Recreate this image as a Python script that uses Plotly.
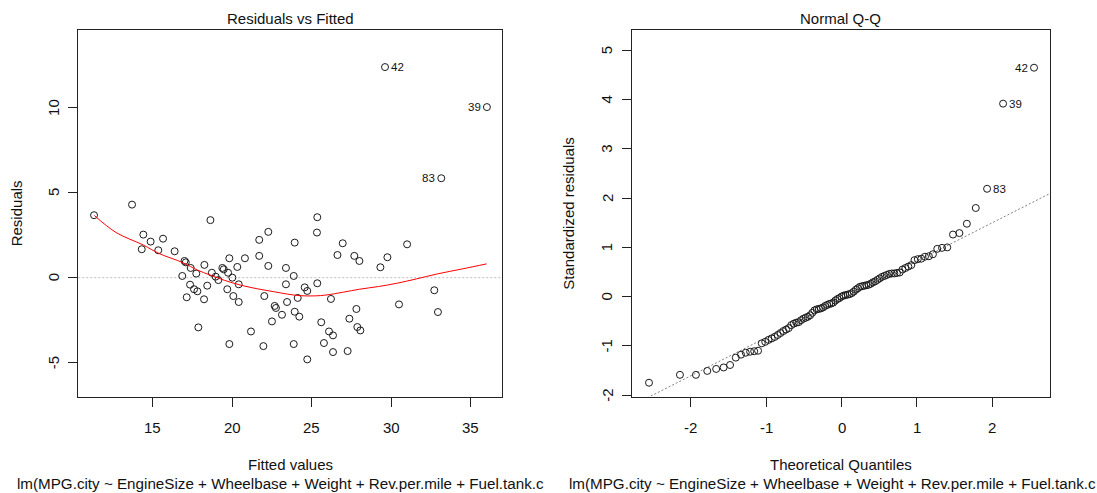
import numpy as np
import plotly.graph_objects as go

# ---------------- data ----------------
fitted = [11.31, 13.70, 14.41, 14.31, 14.87, 15.35, 15.65, 16.38, 17.00, 17.08,
          16.86, 17.39, 17.14, 17.35, 17.60, 17.81, 17.74, 17.87, 18.25, 18.23,
          18.43, 18.63, 18.72, 18.96, 19.13, 19.38, 19.47, 19.74, 19.69, 19.82,
          19.82, 20.01, 20.07, 20.32, 20.41, 20.41, 20.80, 21.18, 21.70, 21.70,
          22.02, 21.96, 22.27, 22.27, 22.50, 22.67, 22.75, 23.13, 23.38, 23.38,
          23.45, 23.87, 23.93, 23.87, 23.93, 24.12, 24.22, 24.56, 24.72, 24.72,
          25.33, 25.35, 25.35, 25.60, 25.77, 26.09, 26.21, 26.34, 26.34, 26.62,
          26.95, 27.26, 27.37, 27.68, 28.00, 27.81, 27.87, 28.06, 29.32, 29.76,
          29.61, 30.49, 31.00, 32.71, 32.94, 33.15, 36.02]
resid = [3.67, 4.29, 2.53, 1.67, 2.12, 1.61, 2.29, 1.55, 0.98, 0.90,
         0.10, 0.57, -1.15, -0.41, -0.68, -0.80, 0.24, -2.92, 0.75, -1.27,
         -0.47, 3.38, 0.29, 0.06, -0.14, 0.57, 0.49, 0.29, -0.68, 1.14,
         -3.90, 0.00, -1.08, 0.63, -0.39, -1.43, 1.14, -3.16, 2.22, 1.28,
         -1.08, -4.02, 2.69, 0.69, -2.57, -1.66, -1.78, -2.18, 0.57, -0.39,
         -1.43, -3.90, 2.06, 0.10, -2.00, -1.19, -2.29, -0.57, -0.78, -4.80,
         2.65, 3.55, -0.33, -2.62, -3.84, -3.16, -1.25, -3.39, -4.37, 1.33,
         2.02, -4.31, -2.41, 1.28, 0.98, -1.84, -2.90, -3.10, 0.61, 1.20,
         12.37, -1.57, 1.96, -0.74, -2.02, 5.84, 10.02]

smooth_x = [11.33, 12.70, 14.40, 15.40, 16.90, 17.80, 18.60, 19.50, 20.50, 21.50,
            22.60, 23.50, 24.30, 25.20, 25.90, 27.00, 28.00, 29.20, 30.35, 31.60,
            32.90, 34.50, 36.00]
smooth_y = [3.65, 2.65, 1.92, 1.42, 0.88, 0.45, 0.16, -0.15, -0.43, -0.64,
            -0.82, -0.97, -1.06, -1.07, -1.02, -0.85, -0.68, -0.52, -0.33, -0.07,
            0.22, 0.52, 0.81]

theo_q = [-2.551, -2.141, -1.929, -1.779, -1.661, -1.562, -1.477, -1.401, -1.332, -1.269,
          -1.211, -1.157, -1.106, -1.057, -1.011, -0.967, -0.925, -0.885, -0.846, -0.808,
          -0.771, -0.735, -0.700, -0.666, -0.633, -0.600, -0.568, -0.537, -0.506, -0.476,
          -0.446, -0.416, -0.387, -0.358, -0.329, -0.301, -0.273, -0.245, -0.217, -0.190,
          -0.162, -0.135, -0.108, -0.081, -0.054, -0.027, 0.000,
          0.027, 0.054, 0.081, 0.108, 0.135, 0.162, 0.190, 0.217, 0.245, 0.273,
          0.301, 0.329, 0.358, 0.387, 0.416, 0.446, 0.476, 0.506, 0.537, 0.568,
          0.600, 0.633, 0.666, 0.700, 0.735, 0.771, 0.808, 0.846, 0.885, 0.925,
          0.967, 1.011, 1.057, 1.106, 1.157, 1.211, 1.269, 1.332, 1.401, 1.477,
          1.562, 1.661, 1.779, 1.929, 2.141, 2.551]
std_resid = [-1.75, -1.59, -1.59, -1.51, -1.47, -1.44, -1.39, -1.24, -1.18, -1.14,
             -1.12, -1.11, -1.10, -0.95, -0.92, -0.88, -0.85, -0.82, -0.78, -0.74,
             -0.70, -0.67, -0.64, -0.58, -0.55, -0.53, -0.52, -0.48, -0.45, -0.43,
             -0.41, -0.38, -0.33, -0.28, -0.26, -0.25, -0.24, -0.22, -0.19, -0.17,
             -0.15, -0.14, -0.12, -0.08, -0.05, -0.03, 0.00,
             0.02, 0.03, 0.04, 0.05, 0.07, 0.10, 0.14, 0.17, 0.20, 0.21,
             0.22, 0.23, 0.24, 0.26, 0.29, 0.31, 0.34, 0.37, 0.40, 0.42,
             0.44, 0.46, 0.47, 0.47, 0.48, 0.49, 0.55, 0.58, 0.61, 0.64,
             0.74, 0.76, 0.77, 0.81, 0.82, 0.86, 0.97, 0.99, 1.00, 1.26,
             1.29, 1.48, 1.80, 2.19, 3.92, 4.65]

resid_labels = [("42", 29.61, 12.37, "left"), ("39", 36.02, 10.02, "right"), ("83", 33.15, 5.84, "right")]
qq_labels = [("42", 2.551, 4.65, "right"), ("39", 2.141, 3.92, "left"), ("83", 1.929, 2.19, "left")]

x1_ticks = [15, 20, 25, 30, 35]
y1_ticks = [-5, 0, 5, 10]
x2_ticks = [-2, -1, 0, 1, 2]
y2_ticks = [-2, -1, 0, 1, 2, 3, 4, 5]

caption = "lm(MPG.city ~ EngineSize + Wheelbase + Weight + Rev.per.mile + Fuel.tank.c"

# ---------------- layout geometry ----------------
W, H = 1097, 493
FONT = "Liberation Sans, Arial, sans-serif"
FS = 15
TXT = "#111111"


def px_x(p):
    return p / W


def px_y(p):
    return 1 - p / H


# qq reference line through quartiles
q25, q75 = np.quantile(std_resid, [0.25, 0.75])
z25, z75 = -0.6745, 0.6745
slope = (q75 - q25) / (z75 - z25)
intercept = q25 - slope * z25
line_x = np.array([-3.0, 3.0])
line_y = intercept + slope * line_x

fig = go.Figure()

marker = dict(symbol="circle-open", size=7, color="#1a1a1a", line=dict(width=1, color="#1a1a1a"))

fig.add_trace(go.Scatter(x=fitted, y=resid, mode="markers", marker=marker,
                         xaxis="x", yaxis="y", showlegend=False, hoverinfo="skip"))
fig.add_trace(go.Scatter(x=smooth_x, y=smooth_y, mode="lines", line=dict(color="red", width=1, shape="spline"),
                         xaxis="x", yaxis="y", showlegend=False, hoverinfo="skip"))
fig.add_trace(go.Scatter(x=line_x, y=line_y, mode="lines", line=dict(color="#808080", width=1, dash="2px,2px"),
                         xaxis="x2", yaxis="y2", showlegend=False, hoverinfo="skip"))
fig.add_trace(go.Scatter(x=theo_q, y=std_resid, mode="markers", marker=marker,
                         xaxis="x2", yaxis="y2", showlegend=False, hoverinfo="skip"))

shapes = [dict(type="line", xref="x domain", yref="y", x0=0, x1=1, y0=0, y1=0,
               line=dict(color="#bebebe", width=1, dash="2px,2px"), layer="below")]

axis_common = dict(showgrid=False, zeroline=False, showline=True, mirror=True,
                   linecolor="#222222", linewidth=1, ticks="outside", ticklen=9,
                   tickcolor="#222222", tickwidth=1, tickmode="array",
                   showticklabels=False, automargin=False)

LEFT_X0, LEFT_X1 = 78.3, 501.7
RIGHT_X0, RIGHT_X1 = 631.5, 1049.5
TOP_Y, BOT_Y = 30.3, 396.5

x1_dom = [px_x(LEFT_X0), px_x(LEFT_X1)]
x2_dom = [px_x(RIGHT_X0), px_x(RIGHT_X1)]
y_dom = [px_y(BOT_Y), px_y(TOP_Y)]

annotations = []


def ann(text, x, y, size=FS, angle=0, xanchor="center", yanchor="middle"):
    annotations.append(dict(text=text, x=px_x(x), y=px_y(y), xref="paper", yref="paper",
                            showarrow=False, textangle=angle, xanchor=xanchor, yanchor=yanchor,
                            font=dict(family=FONT, size=size, color=TXT)))


ann("Residuals vs Fitted", 290, 18.5)
ann("Normal Q-Q", 840.5, 18.5)
ann("Fitted values", 290, 464)
ann("Theoretical Quantiles", 840.5, 464)
ann(caption, 14.5, 483, xanchor="left", size=15.2)
ann(caption, 567, 483, xanchor="left", size=15.2)
ann("Residuals", 16, 213.3, angle=-90)
ann("Standardized residuals", 568.5, 213.3, angle=-90)

# tick labels (R style: y labels parallel to axis)
for v in x1_ticks:
    annotations.append(dict(text=str(v), x=v, xref="x", y=px_y(427.5), yref="paper",
                            showarrow=False, xanchor="center", yanchor="middle",
                            font=dict(family=FONT, size=FS, color=TXT)))
for v in x2_ticks:
    annotations.append(dict(text=str(v), x=v, xref="x2", y=px_y(427.5), yref="paper",
                            showarrow=False, xanchor="center", yanchor="middle",
                            font=dict(family=FONT, size=FS, color=TXT)))
for v in y1_ticks:
    annotations.append(dict(text=str(v), x=px_x(53.5), xref="paper", y=v, yref="y",
                            showarrow=False, xanchor="center", yanchor="middle", textangle=-90,
                            font=dict(family=FONT, size=FS, color=TXT)))
for v in y2_ticks:
    annotations.append(dict(text=str(v), x=px_x(606.8), xref="paper", y=v, yref="y2",
                            showarrow=False, xanchor="center", yanchor="middle", textangle=-90,
                            font=dict(family=FONT, size=FS, color=TXT)))

for txt, xv, yv, side in resid_labels:
    annotations.append(dict(text=txt, x=xv, y=yv, xref="x", yref="y", showarrow=False,
                            xanchor=side, yanchor="middle", xshift=(4 if side == "left" else -4),
                            font=dict(family=FONT, size=11.5, color=TXT)))
for txt, xv, yv, side in qq_labels:
    annotations.append(dict(text=txt, x=xv, y=yv, xref="x2", yref="y2", showarrow=False,
                            xanchor=side, yanchor="middle", xshift=(4 if side == "left" else -4),
                            font=dict(family=FONT, size=11.5, color=TXT)))

fig.update_layout(
    width=W, height=H, autosize=False,
    margin=dict(l=0, r=0, t=0, b=0, pad=0),
    paper_bgcolor="white", plot_bgcolor="white",
    showlegend=False,
    xaxis=dict(domain=x1_dom, range=[10.32, 36.95], anchor="y", tickvals=x1_ticks, **axis_common),
    yaxis=dict(domain=y_dom, range=[-6.98, 14.53], anchor="x", tickvals=y1_ticks, **axis_common),
    xaxis2=dict(domain=x2_dom, range=[-2.783, 2.756], anchor="y2", tickvals=x2_ticks, **axis_common),
    yaxis2=dict(domain=y_dom, range=[-2.03, 5.41], anchor="x2", tickvals=y2_ticks, **axis_common),
    shapes=shapes,
    annotations=annotations,
)

fig.write_html("out.html")
